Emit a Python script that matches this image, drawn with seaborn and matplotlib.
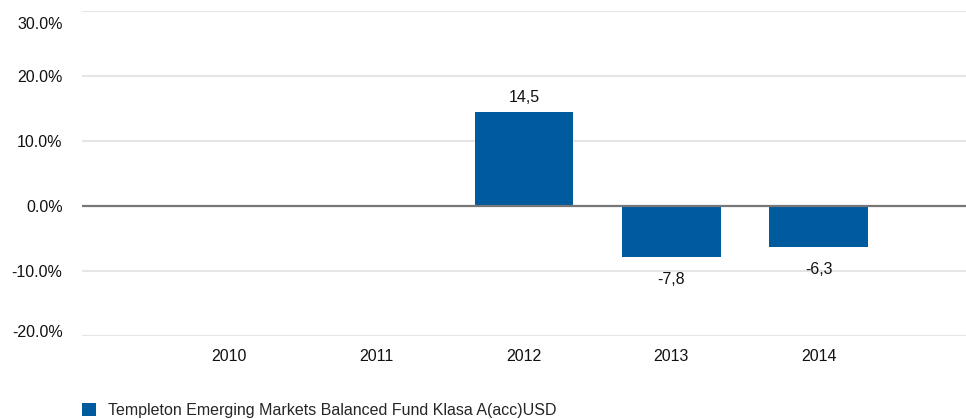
import matplotlib
matplotlib.use('Agg')
import matplotlib.pyplot as plt
from matplotlib.transforms import ScaledTranslation
import seaborn as sns
import numpy as np
import pandas as pd

years = ['2010', '2011', '2012', '2013', '2014']
returns = [np.nan, np.nan, 14.5, -7.8, -6.3]
fund = 'Templeton Emerging Markets Balanced Fund Klasa A(acc)USD'
yticks = [-20, -10, 0, 10, 20, 30]

sns.set_style('white')
plt.rcParams['font.family'] = ['Liberation Sans', 'DejaVu Sans']

df = pd.DataFrame({'year': years, 'ret': returns, 'fund': fund}).dropna()

fig = plt.figure(figsize=(9.66, 4.19), dpi=100)
ax = fig.add_axes([82 / 966, 1 - 336 / 419, 884 / 966, 325 / 419])

sns.barplot(data=df, x='year', y='ret', hue='fund', order=years,
            palette=['#005a9e'], saturation=1, width=0.67, dodge=False,
            linewidth=0, ax=ax)

ax.set_xlim(-1, 5)
ax.set_ylim(-20, 30)
ax.set_yticks(yticks)
ax.set_yticklabels([f'{t:.1f}%' for t in yticks])
ax.set_xlabel('')
ax.set_ylabel('')

for t in yticks:
    if t == 0:
        ax.axhline(0, color='#777777', linewidth=1.6, zorder=3)
    else:
        ax.axhline(t, color='#e6e6e6', linewidth=1.5, zorder=0)

for s in ax.spines.values():
    s.set_visible(False)
ax.tick_params(axis='both', length=0, labelsize=11.5, colors='#111111')
ax.tick_params(axis='y', pad=14)
ax.tick_params(axis='x', pad=9)

# top and bottom labels sit inside the plot band like in the original
top = ax.yaxis.get_major_ticks()[-1].label1
top.set_transform(top.get_transform() + ScaledTranslation(0, -12 / 100, fig.dpi_scale_trans))
bot = ax.yaxis.get_major_ticks()[0].label1
bot.set_transform(bot.get_transform() + ScaledTranslation(0, 5 / 100, fig.dpi_scale_trans))

pos = [f'{v:.1f}'.replace('.', ',') if v > 0 else '' for v in df['ret']]
neg = [f'{v:.1f}'.replace('.', ',') if v < 0 else '' for v in df['ret']]
ax.bar_label(ax.containers[0], labels=pos, padding=5, fontsize=11.5, color='#111111')
ax.bar_label(ax.containers[0], labels=neg, padding=11, fontsize=11.5, color='#111111')

sns.move_legend(ax, 'lower left', bbox_to_anchor=(82 / 966, 0.003),
                bbox_transform=fig.transFigure, frameon=False, title=None,
                fontsize=11.5, handlelength=0.9, handleheight=0.9,
                handletextpad=0.7, borderaxespad=0, borderpad=0)

fig.savefig('out.png', dpi=100)
